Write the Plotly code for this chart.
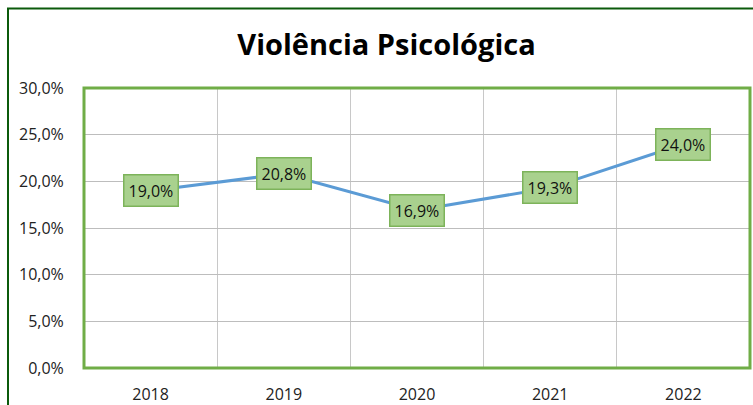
import plotly.graph_objects as go

years = ["2018", "2019", "2020", "2021", "2022"]
values = [0.190, 0.208, 0.169, 0.193, 0.240]
y_ticks = [0, 0.05, 0.10, 0.15, 0.20, 0.25, 0.30]
title = "Violência Psicológica"

x_idx = list(range(len(years)))

W, H = 753, 405
L, R, T, B = 84, 3, 88, 37
pw, ph = W - L - R, H - T - B

fig = go.Figure()
fig.add_trace(go.Scatter(
    x=x_idx, y=values, mode="lines",
    line=dict(color="#5B9BD5", width=3),
    hoverinfo="skip", showlegend=False,
))

for xi, v in zip(x_idx, values):
    fig.add_annotation(
        x=xi, y=v, xref="x", yref="y",
        text=f"{v*100:.1f}%".replace(".", ","),
        showarrow=False,
        font=dict(family="Open Sans", size=16, color="#111111"),
        bgcolor="#A9D18E", bordercolor="#7DB35A", borderwidth=1.5, borderpad=4,
    )

fig.update_layout(
    width=W, height=H,
    margin=dict(l=L, r=R, t=T, b=B, autoexpand=False),
    paper_bgcolor="white", plot_bgcolor="white",
    separators=", ",
    title=dict(text=f"<b>{title}</b>", x=(386.5) / W, xanchor="center", y=1 - 45 / H, yanchor="middle",
               font=dict(family="Open Sans", size=29, color="#000000")),
    xaxis=dict(
        range=[-0.5, len(years) - 0.5], automargin=False,
        tickmode="array", tickvals=x_idx, ticktext=years,
        showgrid=False, zeroline=False, showline=False,
        ticks="outside", ticklen=12, tickcolor="rgba(0,0,0,0)",
        tickfont=dict(family="Open Sans", size=16, color="#222222"),
        minor=dict(tickmode="linear", tick0=0.5, dtick=1, showgrid=True,
                   gridcolor="#C8C8C8", gridwidth=1, ticks=""),
    ),
    yaxis=dict(
        range=[0, 0.30], tickmode="array", tickvals=y_ticks, automargin=False,
        tickformat=".1%", showgrid=True, gridcolor="#BDBDBD", gridwidth=1,
        zeroline=False, showline=False, ticks="outside", ticklen=16, tickcolor="rgba(0,0,0,0)",
        tickfont=dict(family="Open Sans", size=16, color="#222222"),
    ),
    shapes=[
        dict(type="rect", xref="paper", yref="paper", x0=0, x1=1, y0=0, y1=1,
             line=dict(color="#70AD47", width=3), layer="above"),
        dict(type="rect", xref="paper", yref="paper",
             x0=-(L - 8) / pw, x1=1 + 20 / pw, y0=-(B + 20) / ph, y1=1 + (T - 8.5) / ph,
             line=dict(color="#0B5A0B", width=2), layer="above"),
    ],
)

fig.write_html(
    "out.html",
    config={"displayModeBar": False},
    post_script="document.body.style.margin='0';document.body.style.overflow='hidden';",
)
